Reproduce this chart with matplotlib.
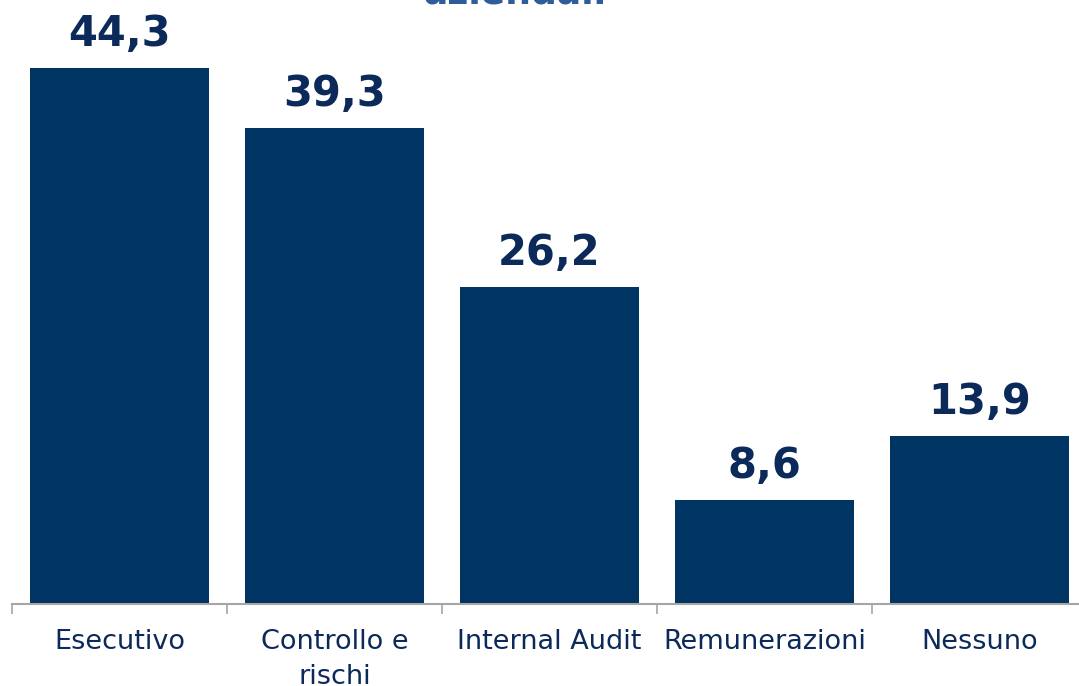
import matplotlib
matplotlib.use("Agg")
import matplotlib.pyplot as plt

categories = ["Esecutivo", "Controllo e\nrischi", "Internal Audit", "Remunerazioni", "Nessuno"]
values = [44.3, 39.3, 26.2, 8.6, 13.9]
value_labels = ["44,3", "39,3", "26,2", "8,6", "13,9"]

bar_color = "#003462"
text_color = "#0b2a5a"
grey = "#a6a6a6"

W, H = 1079, 686
fig = plt.figure(figsize=(W / 100, H / 100), dpi=100)
ax = fig.add_axes([12 / W, (H - 604) / H, 1075 / W, 604 / H])

x = list(range(len(categories)))
ax.bar(x, values, width=0.837, color=bar_color, zorder=2)
ax.set_xlim(-0.5, 4.5)
ax.set_ylim(0, 604 / 12.1)

for xi, v, lab in zip(x, values, value_labels):
    ax.annotate(lab, (xi, v), xytext=(0, 16), textcoords="offset points",
                ha="center", va="baseline", fontsize=30, fontweight="bold",
                color=text_color)

for s in ["top", "right", "left"]:
    ax.spines[s].set_visible(False)
ax.spines["bottom"].set_color(grey)
ax.spines["bottom"].set_linewidth(1.5)
ax.set_yticks([])

ax.set_xticks([i - 0.5 for i in range(len(categories) + 1)], minor=False)
ax.set_xticklabels([])
ax.tick_params(axis="x", which="major", length=7, color=grey, width=1.2)
ax.set_xticks(x, minor=True)
ax.set_xticklabels(categories, minor=True, fontsize=19.5, color=text_color,
                   linespacing=1.45, va="top")
ax.tick_params(axis="x", which="minor", length=0, pad=18)

fig.text(515 / W, 1 - 3 / H, "aziendali", ha="center", va="baseline",
         fontsize=26, fontweight="bold", color="#2e5d9a")

fig.savefig("out.png", dpi=100)
